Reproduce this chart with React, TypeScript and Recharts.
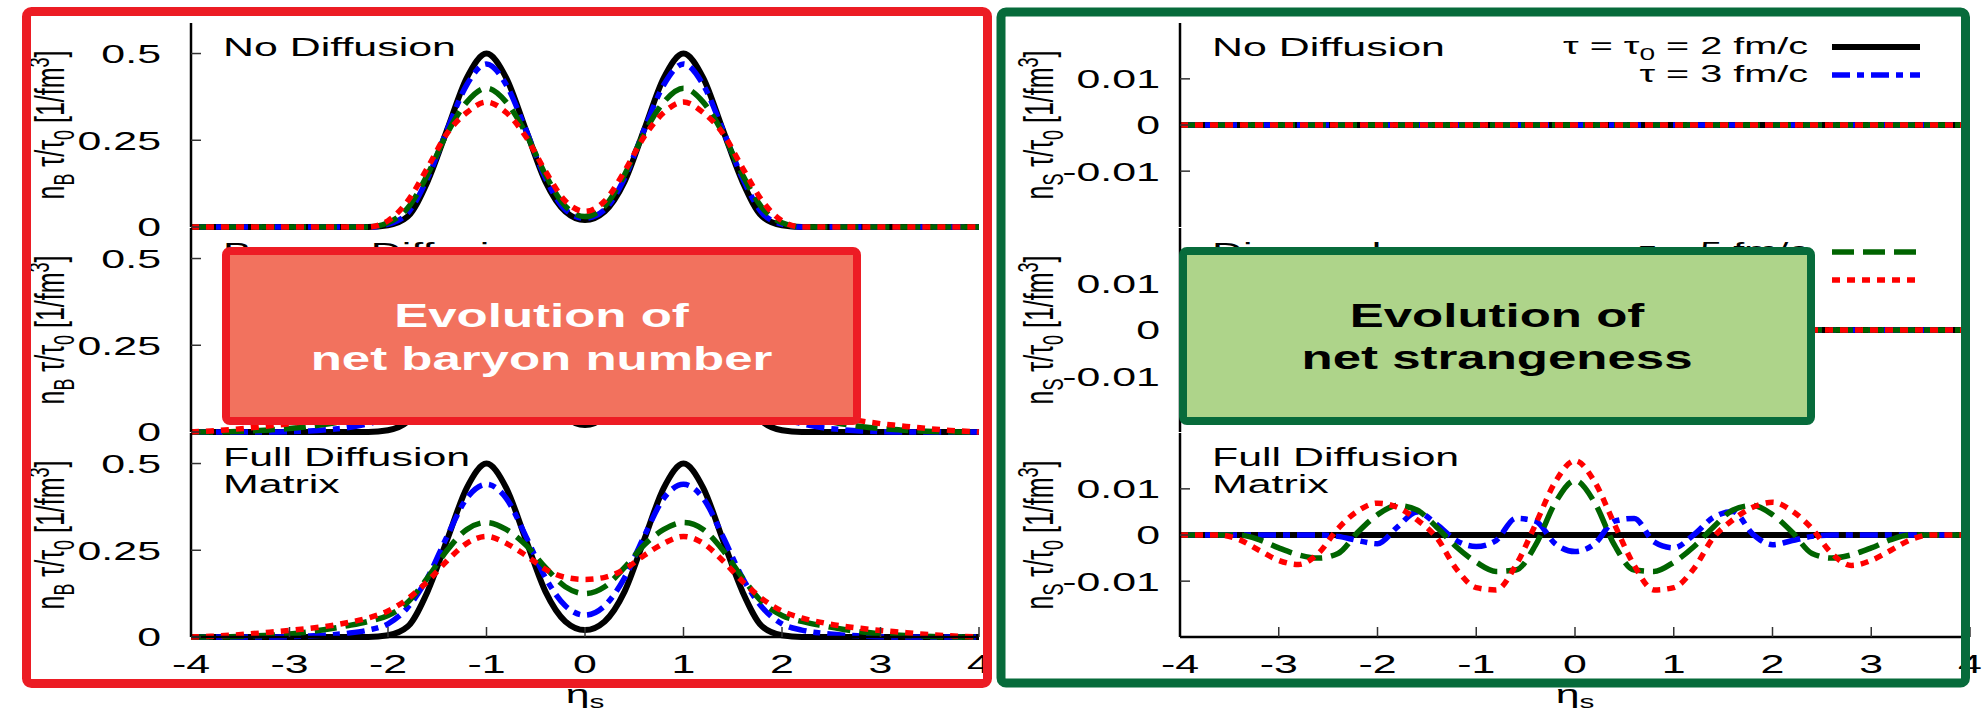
import React from "react";
import { LineChart, Line, XAxis, YAxis, Legend } from "recharts";

const FONT = "'Liberation Sans', Arial, sans-serif";
const SX = 1.65; // the source figure is stretched sideways

const ETA = [
  -4, -3.8, -3.6, -3.4, -3.2, -3, -2.8, -2.6, -2.4, -2.2, -2, -1.8, -1.6, -1.4, -1.2, -1, -0.8, -0.6, -0.4, -0.2,
  0, 0.2, 0.4, 0.6, 0.8, 1, 1.2, 1.4, 1.6, 1.8, 2, 2.2, 2.4, 2.6, 2.8, 3, 3.2, 3.4, 3.6, 3.8, 4,
];
const X_TICKS = [-4, -3, -2, -1, 0, 1, 2, 3, 4];
const NB_TICKS = [0, 0.25, 0.5];
const NS_TICKS = [-0.01, 0, 0.01];

// net baryon density, initial state (tau0 = 2 fm/c)
const NB_INIT = [
  0, 0, 0, 0, 0, 0, 0, 0, 0, 0, 0.005, 0.03, 0.13, 0.28, 0.43, 0.5, 0.43, 0.28, 0.13, 0.045,
  0.02, 0.045, 0.13, 0.28, 0.43, 0.5, 0.43, 0.28, 0.13, 0.03, 0.005, 0, 0, 0, 0, 0, 0, 0, 0, 0, 0,
];
// no diffusion
const NB_NONE_T3 = [
  0, 0, 0, 0, 0, 0, 0, 0, 0, 0, 0.008, 0.04, 0.14, 0.28, 0.41, 0.47, 0.41, 0.28, 0.14, 0.05,
  0.025, 0.05, 0.14, 0.28, 0.41, 0.47, 0.41, 0.28, 0.14, 0.04, 0.008, 0, 0, 0, 0, 0, 0, 0, 0, 0, 0,
];
const NB_NONE_T5 = [
  0, 0, 0, 0, 0, 0, 0, 0, 0, 0, 0.012, 0.055, 0.15, 0.27, 0.36, 0.4, 0.36, 0.27, 0.15, 0.06,
  0.03, 0.06, 0.15, 0.27, 0.36, 0.4, 0.36, 0.27, 0.15, 0.055, 0.012, 0, 0, 0, 0, 0, 0, 0, 0, 0, 0,
];
const NB_NONE_T10 = [
  0, 0, 0, 0, 0, 0, 0, 0, 0, 0, 0.018, 0.075, 0.17, 0.27, 0.33, 0.36, 0.33, 0.26, 0.16, 0.075,
  0.045, 0.075, 0.16, 0.26, 0.33, 0.36, 0.33, 0.27, 0.17, 0.075, 0.018, 0, 0, 0, 0, 0, 0, 0, 0, 0, 0,
];
// baryon diffusion only (mostly hidden behind the caption box)
const NB_BARY_T3 = [
  0, 0, 0, 0, 0, 0.001, 0.003, 0.007, 0.013, 0.024, 0.042, 0.09, 0.175, 0.29, 0.39, 0.43, 0.39, 0.29, 0.175, 0.095,
  0.068, 0.095, 0.175, 0.29, 0.39, 0.43, 0.39, 0.29, 0.175, 0.09, 0.042, 0.024, 0.013, 0.007, 0.003, 0.001, 0, 0, 0, 0, 0,
];
const NB_BARY_T5 = [
  0, 0, 0.001, 0.003, 0.006, 0.01, 0.016, 0.024, 0.034, 0.047, 0.065, 0.105, 0.175, 0.255, 0.315, 0.34, 0.315, 0.27, 0.205, 0.15,
  0.13, 0.15, 0.205, 0.27, 0.315, 0.34, 0.315, 0.255, 0.175, 0.105, 0.065, 0.047, 0.034, 0.024, 0.016, 0.01, 0.006, 0.003, 0.001, 0, 0,
];
const NB_BARY_T10 = [
  0, 0.003, 0.007, 0.012, 0.018, 0.024, 0.032, 0.042, 0.05, 0.062, 0.08, 0.115, 0.165, 0.225, 0.275, 0.3, 0.275, 0.24, 0.2, 0.175,
  0.168, 0.175, 0.2, 0.24, 0.275, 0.3, 0.275, 0.225, 0.165, 0.115, 0.08, 0.062, 0.05, 0.042, 0.032, 0.024, 0.018, 0.012, 0.007, 0.003, 0,
];
// full diffusion matrix
const NB_FULL_T3 = [
  0, 0, 0, 0, 0, 0.001, 0.003, 0.006, 0.011, 0.02, 0.038, 0.085, 0.17, 0.29, 0.4, 0.44, 0.4, 0.29, 0.17, 0.09,
  0.063, 0.09, 0.17, 0.29, 0.4, 0.44, 0.4, 0.29, 0.17, 0.085, 0.038, 0.02, 0.011, 0.006, 0.003, 0.001, 0, 0, 0, 0, 0,
];
const NB_FULL_T5 = [
  0, 0, 0.001, 0.003, 0.005, 0.009, 0.015, 0.023, 0.033, 0.045, 0.062, 0.1, 0.17, 0.25, 0.31, 0.33, 0.31, 0.265, 0.2, 0.145,
  0.125, 0.145, 0.2, 0.265, 0.31, 0.33, 0.31, 0.25, 0.17, 0.1, 0.062, 0.045, 0.033, 0.023, 0.015, 0.009, 0.005, 0.003, 0.001, 0, 0,
];
const NB_FULL_T10 = [
  0, 0.002, 0.005, 0.009, 0.014, 0.019, 0.025, 0.032, 0.042, 0.055, 0.075, 0.11, 0.16, 0.22, 0.27, 0.29, 0.27, 0.235, 0.195, 0.172,
  0.166, 0.172, 0.195, 0.235, 0.27, 0.29, 0.27, 0.22, 0.16, 0.11, 0.075, 0.055, 0.042, 0.032, 0.025, 0.019, 0.014, 0.009, 0.005, 0.002, 0,
];

// net strangeness
const NS_ZERO = [
  0, 0, 0, 0, 0, 0, 0, 0, 0, 0, 0, 0, 0, 0, 0, 0, 0, 0, 0, 0,
  0, 0, 0, 0, 0, 0, 0, 0, 0, 0, 0, 0, 0, 0, 0, 0, 0, 0, 0, 0, 0,
];
const NS_FULL_T3 = [
  0, 0, 0, 0, 0, 0, 0, 0, -0.0003, -0.0012, -0.0019, 0.0017, 0.005, 0.0023, -0.0012, -0.0025, -0.0012, 0.0036, 0.003, -0.0019,
  -0.0036, -0.0019, 0.003, 0.0036, -0.0015, -0.0028, 0, 0.0038, 0.0051, 0.0002, -0.0021, -0.0012, -0.0003, 0, 0, 0, 0, 0, 0, 0, 0,
];
const NS_FULL_T5 = [
  0, 0, 0, 0, -0.001, -0.0028, -0.0043, -0.005, -0.004, 0.0006, 0.0044, 0.0064, 0.0054, 0.0017, -0.0026, -0.0059, -0.0079, -0.0076, -0.0022, 0.007,
  0.0118, 0.007, -0.0022, -0.0076, -0.0079, -0.0059, -0.0026, 0.0017, 0.0054, 0.0064, 0.0044, 0.0006, -0.004, -0.005, -0.0043, -0.0028, -0.001, 0, 0, 0, 0,
];
const NS_FULL_T10 = [
  0, 0, 0, -0.001, -0.0033, -0.0055, -0.0064, -0.004, 0.0014, 0.0052, 0.0069, 0.006, 0.0033, -0.0006, -0.0074, -0.0114, -0.0119, -0.0066, 0.0023, 0.0115,
  0.0161, 0.0115, 0.0023, -0.0066, -0.0119, -0.0114, -0.0074, -0.0006, 0.0033, 0.006, 0.0071, 0.0052, 0.0014, -0.004, -0.0066, -0.0055, -0.0033, -0.001, 0, 0, 0,
];

const SERIES = [
  { key: "t2", pre: "τ = τ", sub: "0", post: " = 2 fm/c", color: "#000000", dash: undefined, width: 6 },
  { key: "t3", pre: "τ = 3 fm/c", sub: "", post: "", color: "#0000ff", dash: "18 7 7 7", width: 5.5 },
  { key: "t5", pre: "τ = 5 fm/c", sub: "", post: "", color: "#006400", dash: "22 9", width: 5.5 },
  { key: "t10", pre: "τ = 10 fm/c", sub: "", post: "", color: "#ff0000", dash: "8 7", width: 5.5 },
];

const rowsOf = (cols: number[][]) =>
  ETA.map((eta, i) => ({ eta, t2: cols[0][i], t3: cols[1][i], t5: cols[2][i], t10: cols[3][i] }));

const PANEL_TOPS = [23, 228, 433];
const PLOT_H = 204;
const AXIS_W = 150;
const XLAB_H = 50;
const M = { top: 3, right: 16, bottom: 20 };

const frameLine = { stroke: "#000", strokeWidth: 2.5 };
const tickLine = { stroke: "#333", strokeWidth: 1.5 };

function AxisTick(props: any) {
  const { x, y, payload, textAnchor } = props;
  return (
    <text
      transform={`translate(${x} ${y}) scale(${SX} 1)`}
      textAnchor={textAnchor}
      dy="0.36em"
      fontSize={26}
      fontFamily={FONT}
      fill="#000"
    >
      {String(payload.value)}
    </text>
  );
}

function LegendRows({ keys }: { keys: string[] }) {
  return (
    <svg width={960} height={80} style={{ display: "block" }}>
      {SERIES.filter((s) => keys.includes(s.key)).map((s, i) => (
        <g key={s.key}>
          <text
            transform={`translate(778 ${34 + 28 * i}) scale(${SX} 1)`}
            textAnchor="end"
            fontSize={24}
            fontFamily={FONT}
            style={{ whiteSpace: "pre" }}
          >
            {s.pre}
            {s.sub ? <tspan dy={6} fontSize={17}>{s.sub}</tspan> : null}
            {s.post ? <tspan dy={s.sub ? -6 : 0}>{s.post}</tspan> : null}
          </text>
          <line x1={802} x2={890} y1={27 + 28 * i} y2={27 + 28 * i} stroke={s.color} strokeWidth={s.width} strokeDasharray={s.dash} />
        </g>
      ))}
    </svg>
  );
}

function Panel(props: {
  x0: number;
  y0: number;
  plotW: number;
  rows: any[];
  yDomain: number[];
  yTicks: number[];
  yTickMargin: number;
  showX: boolean;
  legendKeys?: string[];
}) {
  const { x0, y0, plotW, rows, yDomain, yTicks, yTickMargin, showX, legendKeys } = props;
  const w = AXIS_W + plotW + M.right;
  const h = M.top + PLOT_H + (showX ? XLAB_H : M.bottom);
  return (
    <div style={{ position: "absolute", left: x0 - AXIS_W, top: y0 - M.top }}>
      <LineChart width={w} height={h} data={rows} margin={{ top: M.top, right: M.right, bottom: showX ? 0 : M.bottom, left: 0 }}>
        <XAxis
          xAxisId="b"
          dataKey="eta"
          type="number"
          domain={[-4, 4]}
          ticks={X_TICKS}
          interval={0}
          height={showX ? XLAB_H : 0}
          tickSize={-10}
          tickMargin={37}
          tick={showX ? <AxisTick /> : false}
          axisLine={frameLine}
          tickLine={tickLine}
        />
        <XAxis
          xAxisId="t"
          orientation="top"
          type="number"
          domain={[-4, 4]}
          ticks={X_TICKS}
          interval={0}
          height={0}
          tickSize={-10}
          tick={false}
          axisLine={frameLine}
          tickLine={tickLine}
        />
        <YAxis
          yAxisId="l"
          type="number"
          domain={yDomain}
          ticks={yTicks}
          interval={0}
          width={AXIS_W}
          tickSize={-10}
          tickMargin={yTickMargin}
          tick={<AxisTick />}
          axisLine={frameLine}
          tickLine={tickLine}
        />
        <YAxis
          yAxisId="r"
          orientation="right"
          type="number"
          domain={yDomain}
          ticks={yTicks}
          interval={0}
          width={0}
          tickSize={-10}
          tick={false}
          axisLine={frameLine}
          tickLine={tickLine}
        />
        {SERIES.map((s) => (
          <Line
            key={s.key}
            xAxisId="b"
            yAxisId="l"
            dataKey={s.key}
            type="monotone"
            stroke={s.color}
            strokeWidth={s.width}
            strokeDasharray={s.dash}
            dot={false}
            activeDot={false}
            isAnimationActive={false}
          />
        ))}
        {legendKeys ? (
          <Legend
            layout="horizontal"
            verticalAlign="middle"
            align="center"
            wrapperStyle={{ left: 0, top: 0, width: 960, height: 80 }}
            content={() => <LegendRows keys={legendKeys} />}
          />
        ) : null}
      </LineChart>
    </div>
  );
}

function SText(p: { x: number; y: number; size?: number; sx?: number; anchor?: string; weight?: string; fill?: string; children: any }) {
  return (
    <text
      transform={`translate(${p.x} ${p.y}) scale(${p.sx ?? SX} 1)`}
      textAnchor={p.anchor ?? "start"}
      fontSize={p.size ?? 26}
      fontWeight={p.weight}
      fontFamily={FONT}
      fill={p.fill ?? "#000"}
    >
      {p.children}
    </text>
  );
}

function YLabel({ x, y, sub }: { x: number; y: number; sub: string }) {
  return (
    <text transform={`translate(${x} ${y}) scale(${SX} 1) rotate(-90)`} textAnchor="middle" fontSize={25} fontFamily={FONT} style={{ whiteSpace: "pre" }}>
      n<tspan dy={6} fontSize={18}>{sub}</tspan>
      <tspan dy={-6}> τ/τ</tspan>
      <tspan dy={6} fontSize={18}>0</tspan>
      <tspan dy={-6}> [1/fm</tspan>
      <tspan dy={-9} fontSize={18}>3</tspan>
      <tspan dy={9}>]</tspan>
    </text>
  );
}

const LEFT_LABELS = [["No Diffusion"], ["Baryon Diffusion"], ["Full Diffusion", "Matrix"]];
const RIGHT_LABELS = [["No Diffusion"], ["Diagonal"], ["Full Diffusion", "Matrix"]];

const NB_PANELS = [
  rowsOf([NB_INIT, NB_NONE_T3, NB_NONE_T5, NB_NONE_T10]),
  rowsOf([NB_INIT, NB_BARY_T3, NB_BARY_T5, NB_BARY_T10]),
  rowsOf([NB_INIT, NB_FULL_T3, NB_FULL_T5, NB_FULL_T10]),
];
const NS_PANELS = [
  rowsOf([NS_ZERO, NS_ZERO, NS_ZERO, NS_ZERO]),
  rowsOf([NS_ZERO, NS_ZERO, NS_ZERO, NS_ZERO]),
  rowsOf([NS_ZERO, NS_FULL_T3, NS_FULL_T5, NS_FULL_T10]),
];

export default function App() {
  return (
    <div style={{ position: "absolute", left: 0, top: 0, width: 1985, height: 716, background: "#fff", overflow: "hidden" }}>
      {NB_PANELS.map((rows, i) => (
        <Panel
          key={"nb" + i}
          x0={191}
          y0={PANEL_TOPS[i]}
          plotW={788}
          rows={rows}
          yDomain={[0, 0.588]}
          yTicks={NB_TICKS}
          yTickMargin={40}
          showX={i === 2}
        />
      ))}
      {NS_PANELS.map((rows, i) => (
        <Panel
          key={"ns" + i}
          x0={1180}
          y0={PANEL_TOPS[i]}
          plotW={790}
          rows={rows}
          yDomain={[-0.0221, 0.0221]}
          yTicks={NS_TICKS}
          yTickMargin={30}
          showX={i === 2}
          legendKeys={i === 0 ? ["t2", "t3"] : i === 1 ? ["t5", "t10"] : undefined}
        />
      ))}
      <svg width={1985} height={716} style={{ position: "absolute", left: 0, top: 0 }}>
        {PANEL_TOPS.map((top, i) => (
          <g key={"lab" + i}>
            {LEFT_LABELS[i].map((t, j) => (
              <SText key={"l" + j} x={223} y={top + 33 + 27 * j}>{t}</SText>
            ))}
            {RIGHT_LABELS[i].map((t, j) => (
              <SText key={"r" + j} x={1212} y={top + 33 + 27 * j}>{t}</SText>
            ))}
            <YLabel x={64} y={top + 102} sub="B" />
            <YLabel x={1053} y={top + 102} sub="S" />
          </g>
        ))}
        <SText x={585} y={703} anchor="middle">
          η<tspan dy={5} fontSize={18}>s</tspan>
        </SText>
        <SText x={1575} y={703} anchor="middle">
          η<tspan dy={5} fontSize={18}>s</tspan>
        </SText>

        <rect x={226} y={251} width={631} height={170} rx={4} fill="#f2725e" stroke="#ed1c24" strokeWidth={8} />
        <SText x={541.5} y={327} size={34} sx={1.5} anchor="middle" weight="bold" fill="#ffffff">Evolution of</SText>
        <SText x={541.5} y={370} size={34} sx={1.5} anchor="middle" weight="bold" fill="#ffffff">net baryon number</SText>

        <rect x={1183} y={251} width={628} height={170} rx={4} fill="#aed48a" stroke="#076b3b" strokeWidth={8} />
        <SText x={1497} y={327} size={34} sx={1.5} anchor="middle" weight="bold">Evolution of</SText>
        <SText x={1497} y={369} size={34} sx={1.5} anchor="middle" weight="bold">net strangeness</SText>

        <rect x={26.5} y={11.5} width={961} height={672} rx={5} fill="none" stroke="#ec1c24" strokeWidth={9} />
        <rect x={1001} y={12} width={964.5} height={671} rx={5} fill="none" stroke="#076b3b" strokeWidth={9} />
      </svg>
    </div>
  );
}
